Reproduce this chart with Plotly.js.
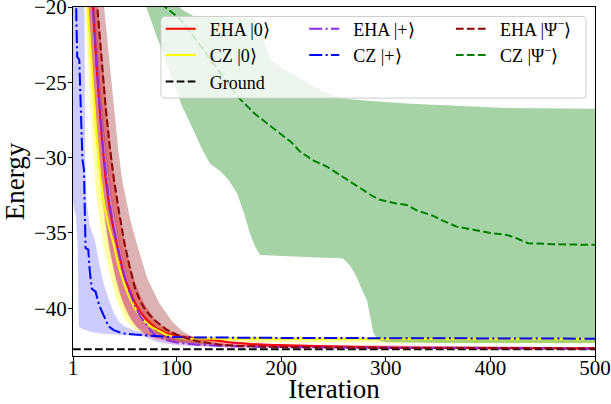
<!DOCTYPE html>
<html><head><meta charset="utf-8">
<script src="https://cdn.plot.ly/plotly-3.0.1.min.js"></script>
<style>html,body{margin:0;padding:0;background:#fff}#chart{width:611px;height:404px}</style>
</head><body><div id="chart"></div>
<script>
// ---------- data ----------
const xTicks = [1, 100, 200, 300, 400, 500];
const yTicks = [-20, -25, -30, -35, -40];

// EHA |0>
const redIt = [1,5,10,15,20,24,28,32,36,40,45,50,55,60,65,70,75,80,90,100,110,120,130,140,150,160,170,185,200,220,260,300,400,500];
const redE  = [-3,-6,-11,-15.5,-20,-24.4,-28.2,-31.3,-33.4,-34.8,-36.4,-37.9,-38.8,-39.6,-40.2,-40.65,-41.0,-41.3,-41.65,-41.85,-41.95,-42.0,-42.05,-42.15,-42.25,-42.32,-42.38,-42.42,-42.45,-42.48,-42.55,-42.62,-42.66,-42.68];
const redUpIt = [15,20,25,30,35,40,45,50,55,60,65,70,80,90,100,120,150,200,500];
const redUpE  = [-12,-16,-20,-24.5,-28,-31,-33.5,-35.5,-37,-38.2,-39.1,-39.8,-40.8,-41.4,-41.7,-41.95,-42.2,-42.4,-42.6];
const redLoIt = [10,15,20,25,30,35,40,45,50,55,60,70,80,90,100,120,150,200,500];
const redLoE  = [-14,-20,-25,-29.5,-33,-35.7,-37.5,-38.9,-39.9,-40.6,-41.1,-41.7,-42.0,-42.15,-42.25,-42.35,-42.5,-42.6,-42.72];

// CZ |0>
const yelIt = [1,5,10,15,19,23,27,31,35,40,45,50,55,60,65,70,75,80,90,100,110,150,300,500];
const yelE  = [-3,-7,-12,-20,-24,-28,-31.2,-33.2,-34.5,-35.8,-37.3,-38.4,-39.3,-40.0,-40.5,-40.9,-41.2,-41.4,-41.75,-41.95,-42.0,-42.02,-42.03,-42.04];
const yelUpIt = [10,15,20,25,30,35,40,45,50,55,60,70,80,90,100,120,500];
const yelUpE  = [-11,-16,-20,-25.5,-29.5,-32.5,-34.5,-36.2,-37.5,-38.6,-39.4,-40.5,-41.1,-41.5,-41.8,-41.92,-41.95];
const yelLoIt = [1,8,11.5,17,21,24,28,32,36,42,51,60,70,80,100,150,500];
const yelLoE  = [-5,-14,-20,-26,-30.5,-33,-35,-36.4,-37.7,-39.3,-40.8,-41.4,-41.8,-42.0,-42.15,-42.25,-42.3];

// Ground
const groundIt = [1, 500];
const groundE  = [-42.72, -42.72];

// EHA |+>
const purIt = [1,10,15,20,25,30,35,40,45,50,55,60,65,70,75,80,90,100,120,150,200,300,500];
const purE  = [-3,-11,-15.5,-20,-25.3,-29.6,-32.6,-34.7,-36.4,-37.8,-38.9,-39.8,-40.5,-41.0,-41.45,-41.8,-42.1,-42.28,-42.42,-42.52,-42.58,-42.63,-42.67];
const purUpIt = [18,22,27,32,37,42,48,55,62,70,80,90,100,150,500];
const purUpE  = [-16,-20,-25,-29,-32,-34.3,-36.5,-38.4,-39.8,-40.8,-41.5,-41.9,-42.1,-42.45,-42.6];
const purLoIt = [10,14,18,22,27,32,37,42,48,55,62,70,80,100,150,500];
const purLoE  = [-14,-20,-24,-28,-31.8,-34.5,-36.5,-38,-39.4,-40.5,-41.3,-41.9,-42.2,-42.45,-42.6,-42.7];

// CZ |+>
const bluIt = [1,3,4,5,7,8,10,11.5,13,15.6,17,19,22.6,26,29,32,35,40,48,60,80,100,200,300,500];
const bluE  = [-10,-17,-20,-23.3,-23.5,-26,-30.1,-30.8,-36.0,-36.1,-37.5,-38.7,-38.9,-39.8,-40.3,-40.8,-41.2,-41.45,-41.66,-41.75,-41.86,-41.93,-41.97,-41.99,-42.02];
const bluUpIt = [1,6,10,12,12.7,14,17,22,26,30,35,40,45,50,60,70,80,100,200,500];
const bluUpE  = [-5,-12,-17,-20.5,-30,-33,-34.5,-35.5,-37,-38.3,-39.4,-40.3,-40.9,-41.2,-41.5,-41.65,-41.75,-41.86,-41.93,-41.98];
const bluLoIt = [1,4,5.5,6.5,10,15,20,30,40,60,80,100,200,500];
const bluLoE  = [-33,-34,-36,-41.2,-41.4,-41.5,-41.6,-41.7,-41.75,-41.85,-41.92,-41.98,-42.0,-42.05];

// EHA |Psi->
const drIt = [1,10,20,24,28,32,36,40,45,50,55,60,65,70,75,80,90,100,110,120,140,160,200,300,500];
const drE  = [-2,-8,-16.5,-20,-23.5,-26.5,-29.2,-31.4,-33.6,-35.6,-37.2,-38.6,-39.5,-40.1,-40.5,-40.85,-41.4,-41.75,-42.0,-42.2,-42.4,-42.5,-42.58,-42.63,-42.67];
const drUpIt = [25,30.6,35,40,44,48,56,64,72,83,96,105,115,130,150,200,500];
const drUpE  = [-16,-20,-23,-26.5,-29.3,-31.5,-34.2,-36.2,-38.0,-39.6,-40.9,-41.5,-41.9,-42.2,-42.4,-42.5,-42.6];
const drLoIt = [15,20,25,30,35,40,45,50,55,60,70,80,90,100,120,150,500];
const drLoE  = [-15,-20,-24.5,-28.5,-31.5,-33.8,-35.7,-37.3,-38.5,-39.5,-40.8,-41.6,-42.0,-42.25,-42.45,-42.55,-42.7];

// CZ |Psi->
const grnIt = [1,40,70,89,100,104,120,140,159,175,192.6,199,210,218,224.5,231,243.6,255,269,280,288,294.5,310,320,329.6,345.4,355,367.8,383.6,400,415.5,425,436,460,498,500];
const grnE  = [-4,-12,-17.5,-20.0,-20.6,-20.84,-22.3,-24.2,-26.0,-27.1,-28.04,-28.37,-29.0,-29.6,-29.93,-30.2,-30.59,-31.1,-31.69,-32.2,-32.58,-32.8,-33.05,-33.14,-33.5,-33.87,-34.2,-34.58,-34.8,-35.0,-35.13,-35.35,-35.68,-35.75,-35.79,-35.8];
const grnUpIt = [1,50,80,100,106,116,150,175,181,186,190,200,215,237,256,280,320,352,415,500];
const grnUpE  = [-2,-12,-17,-19.8,-20.2,-20.6,-20.7,-20.8,-21.5,-22.8,-23.5,-24.0,-24.6,-25.5,-26.05,-26.2,-26.4,-26.5,-26.7,-26.75];
const grnLoIt = [1,40,60,71,84,97,106,116,124,132,142,150,158,164,170,175,180,200,240,259,266,272,278,282,285,288,292,300,350,500];
const grnLoE  = [-8,-15,-18.5,-20,-22.5,-25.05,-26.7,-28.15,-29.4,-30.4,-30.9,-31.5,-32.4,-33.6,-35.0,-35.9,-36.46,-36.55,-36.65,-36.68,-37.2,-37.9,-38.9,-39.45,-40.5,-41.6,-42.1,-42.25,-42.3,-42.3];

// ---------- drawing ----------
const SERIF = 'Liberation Serif, Times New Roman, serif';
function band(xUp, yUp, xLo, yLo, color) {
  return {x: xUp.concat(xLo.slice().reverse()), y: yUp.concat(yLo.slice().reverse()),
          type: 'scatter', mode: 'lines', line: {width: 0}, fill: 'toself', fillcolor: color,
          showlegend: false, hoverinfo: 'skip'};
}
function line(x, y, name, color, dash, legend) {
  return {x: x, y: y, type: 'scatter', mode: 'lines', name: name,
          line: {color: color, width: 2, dash: dash}, legend: legend};
}
const DASH = '7.7px,3.3px';
const DASHDOT = '13px,3.3px,2.1px,3.3px';
const SP = '\u2002';

const traces = [
  band(bluUpIt, bluUpE, bluLoIt, bluLoE, 'rgba(0,0,255,0.2)'),
  band(yelUpIt, yelUpE, yelLoIt, yelLoE, 'rgba(255,255,0,0.35)'),
  band(redUpIt, redUpE, redLoIt, redLoE, 'rgba(255,0,0,0.35)'),
  band(purUpIt, purUpE, purLoIt, purLoE, 'rgba(138,43,226,0.3)'),
  band(drUpIt, drUpE, drLoIt, drLoE, 'rgba(139,0,0,0.3)'),
  band(grnUpIt, grnUpE, grnLoIt, grnLoE, 'rgba(0,128,0,0.35)'),
  line(redIt, redE, SP + 'EHA |0⟩', '#ff0000', 'solid', 'legend'),
  line(yelIt, yelE, SP + 'CZ |0⟩', '#ffff00', 'solid', 'legend'),
  line(groundIt, groundE, SP + 'Ground', '#000000', DASH, 'legend'),
  line(purIt, purE, SP + 'EHA |+⟩', '#8a2be2', DASHDOT, 'legend2'),
  line(bluIt, bluE, SP + 'CZ |+⟩', '#0000ff', DASHDOT, 'legend2'),
  line(drIt, drE, SP + 'EHA |Ψ<sup>−</sup>⟩', '#8b0000', DASH, 'legend3'),
  line(grnIt, grnE, SP + 'CZ |Ψ<sup>−</sup>⟩', '#008000', DASH, 'legend3')
];

const tickFont = {family: SERIF, size: 21, color: '#000'};
const titleFont = {family: SERIF, size: 27, color: '#000'};
const legFont = {family: SERIF, size: 18, color: '#000'};
function leg(x) {
  return {x: x, y: 0.99, xanchor: 'left', yanchor: 'top', bgcolor: 'rgba(0,0,0,0)',
          borderwidth: 0, font: legFont, tracegroupgap: 0};
}
const bx0 = 0.1685, bx1 = 0.9828, by0 = 0.739, by1 = 0.973, rx = 0.008, ry = 0.012;
const boxPath = `M${bx0+rx},${by0} L${bx1-rx},${by0} Q${bx1},${by0} ${bx1},${by0+ry} L${bx1},${by1-ry} Q${bx1},${by1} ${bx1-rx},${by1} L${bx0+rx},${by1} Q${bx0},${by1} ${bx0},${by1-ry} L${bx0},${by0+ry} Q${bx0},${by0} ${bx0+rx},${by0} Z`;

const layout = {
  width: 611, height: 404,
  margin: {l: 73, r: 16, t: 7, b: 48},
  paper_bgcolor: '#ffffff', plot_bgcolor: '#ffffff',
  showlegend: true,
  xaxis: {range: [1, 500], tickvals: xTicks, ticks: 'outside', ticklen: 4, tickwidth: 1, tickcolor: '#000',
          showline: true, linecolor: '#000', linewidth: 1, mirror: true, showgrid: false, zeroline: false,
          ticklabelstandoff: -11, ticklabeloverflow: 'allow',
          tickfont: tickFont, title: {text: 'Iteration', font: titleFont, standoff: 2}},
  yaxis: {range: [-43.17, -20], tickvals: yTicks, ticks: 'outside', ticklen: 4, tickwidth: 1, tickcolor: '#000',
          showline: true, linecolor: '#000', linewidth: 1, mirror: true, showgrid: false, zeroline: false,
          ticklabelstandoff: -3, ticklabeloverflow: 'allow',
          tickfont: tickFont, title: {text: 'Energy', font: titleFont, standoff: 2}},
  legend: leg(0.168),
  legend2: leg(0.443),
  legend3: leg(0.724),
  shapes: [{type: 'path', xref: 'paper', yref: 'paper', path: boxPath, layer: 'above',
            fillcolor: 'rgba(255,255,255,0.8)', line: {color: '#cccccc', width: 1}}]
};

Plotly.newPlot('chart', traces, layout, {staticPlot: true, displayModeBar: false});
</script>
</body></html>
